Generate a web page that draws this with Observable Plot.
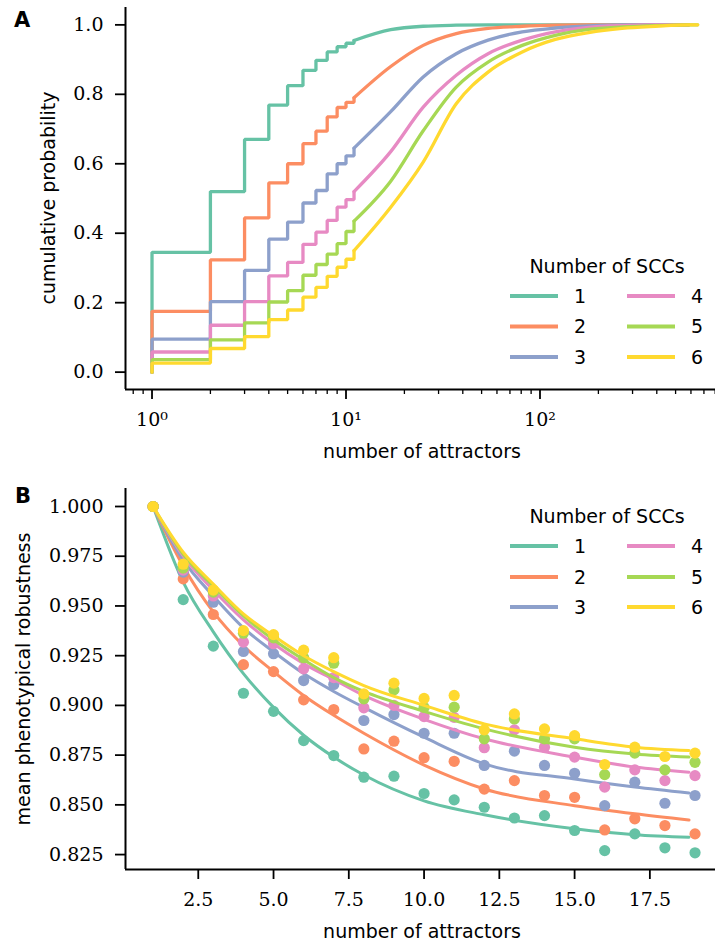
<!DOCTYPE html>
<html>
<head>
<meta charset="utf-8">
<script src="https://cdn.jsdelivr.net/npm/d3@7"></script>
<script src="https://cdn.jsdelivr.net/npm/@observablehq/plot@0.6"></script>
<style>
  html, body { margin: 0; padding: 0; background: #fff; }
  #wrap { position: relative; width: 715px; height: 944px; overflow: hidden; background: #fff; }
  #wrap > svg { position: absolute; left: 0; }
</style>
</head>
<body>
<div id="wrap"></div>
<script>
// ---------- shared ----------
const sccLabels = ["1", "2", "3", "4", "5", "6"];
const colors = ["#66c2a5", "#fc8d62", "#8da0cb", "#e78ac3", "#a6d854", "#ffd92f"];

// ---------- Panel A: ECDF of number of attractors ----------
const stepX = [1, 2, 3, 4, 5, 6, 7, 8, 9, 10, 11];
const stepsA = [
  [0.345, 0.520, 0.670, 0.769, 0.825, 0.869, 0.898, 0.922, 0.937, 0.947, 0.955],
  [0.175, 0.323, 0.444, 0.545, 0.600, 0.658, 0.694, 0.735, 0.762, 0.777, 0.790],
  [0.095, 0.203, 0.293, 0.383, 0.432, 0.487, 0.523, 0.571, 0.600, 0.623, 0.645],
  [0.058, 0.135, 0.203, 0.277, 0.316, 0.368, 0.403, 0.437, 0.475, 0.497, 0.520],
  [0.036, 0.093, 0.142, 0.202, 0.235, 0.279, 0.310, 0.340, 0.370, 0.405, 0.435],
  [0.026, 0.068, 0.102, 0.151, 0.179, 0.216, 0.244, 0.276, 0.302, 0.325, 0.350]
];
const tailX = [11, 17, 25, 37, 54, 81, 120, 178, 265, 394, 585, 650];
const tailsA = [
  [0.955, 0.986, 0.996, 0.999, 1.000, 1.000, 1.000, 1.000, 1.000, 1.000, 1.000],
  [0.790, 0.880, 0.941, 0.975, 0.990, 0.996, 0.999, 1.000, 1.000, 1.000, 1.000],
  [0.645, 0.750, 0.850, 0.917, 0.956, 0.980, 0.991, 0.997, 1.000, 1.000, 1.000],
  [0.520, 0.635, 0.763, 0.855, 0.917, 0.956, 0.980, 0.993, 0.998, 1.000, 1.000],
  [0.435, 0.550, 0.695, 0.821, 0.893, 0.941, 0.970, 0.987, 0.994, 0.998, 1.000, 1.000],
  [0.350, 0.475, 0.605, 0.773, 0.864, 0.922, 0.958, 0.978, 0.990, 0.996, 1.000, 1.000]
];
const yTicksA = [0, 0.2, 0.4, 0.6, 0.8, 1.0];
const xMajorA = [1, 10, 100];
const xMinorA = [0.8, 0.9, 2, 3, 4, 5, 6, 7, 8, 9, 20, 30, 40, 50, 60, 70, 80, 90, 200, 300, 400, 500, 600, 700, 800];

// ---------- Panel B: mean phenotypical robustness ----------
const attractorsB = [1, 2, 3, 4, 5, 6, 7, 8, 9, 10, 11, 12, 13, 14, 15, 16, 17, 18, 19];
const pointsB = [
  [1.000, 0.9532, 0.9298, 0.9061, 0.8970, 0.8823, 0.8748, 0.8639, 0.8644, 0.8557, 0.8525, 0.8488, 0.8434, 0.8446, 0.8371, 0.8270, 0.8354, 0.8284, 0.8259],
  [1.000, 0.9636, 0.9457, 0.9205, 0.9170, 0.9028, 0.8979, 0.8781, 0.8820, 0.8737, 0.8719, 0.8579, 0.8622, 0.8547, 0.8538, 0.8374, 0.8430, 0.8396, 0.8354],
  [1.000, 0.9670, 0.9519, 0.9271, 0.9260, 0.9125, 0.9105, 0.8924, 0.8954, 0.8860, 0.8860, 0.8698, 0.8770, 0.8698, 0.8659, 0.8496, 0.8614, 0.8508, 0.8547],
  [1.000, 0.9680, 0.9550, 0.9318, 0.9310, 0.9184, 0.9140, 0.8988, 0.9000, 0.8944, 0.8940, 0.8787, 0.8877, 0.8790, 0.8740, 0.8589, 0.8676, 0.8622, 0.8647],
  [1.000, 0.9690, 0.9570, 0.9363, 0.9340, 0.9240, 0.9212, 0.9033, 0.9078, 0.8990, 0.8991, 0.8832, 0.8932, 0.8832, 0.8832, 0.8652, 0.8760, 0.8676, 0.8714],
  [1.000, 0.9710, 0.9580, 0.9376, 0.9356, 0.9278, 0.9240, 0.9058, 0.9112, 0.9035, 0.9050, 0.8877, 0.8957, 0.8882, 0.8848, 0.8703, 0.8790, 0.8743, 0.8760]
];
const fitX = [1, 2, 3, 4, 5, 6, 7, 8, 10, 12, 15, 17, 18.8];
const fitsB = [
  [1, 0.962, 0.937, 0.916, 0.899, 0.885, 0.874, 0.865, 0.852, 0.845, 0.838, 0.835, 0.8337],
  [1, 0.970, 0.947, 0.930, 0.917, 0.905, 0.895, 0.886, 0.870, 0.858, 0.8496, 0.8455, 0.8424],
  [1, 0.973, 0.955, 0.939, 0.927, 0.916, 0.907, 0.899, 0.884, 0.8706, 0.863, 0.859, 0.856],
  [1, 0.975, 0.958, 0.943, 0.931, 0.921, 0.913, 0.905, 0.893, 0.8832, 0.874, 0.869, 0.8664],
  [1, 0.976, 0.960, 0.945, 0.933, 0.923, 0.914, 0.907, 0.897, 0.8882, 0.879, 0.8756, 0.874],
  [1, 0.977, 0.961, 0.946, 0.935, 0.925, 0.917, 0.910, 0.900, 0.8907, 0.8832, 0.879, 0.8773]
];
const yTicksB = [0.825, 0.850, 0.875, 0.900, 0.925, 0.950, 0.975, 1.000];
const xTicksB = [2.5, 5.0, 7.5, 10.0, 12.5, 15.0, 17.5];

// ---------- build ----------
const wrap = document.getElementById("wrap");
const sup = {0: "\u2070", 1: "\u00B9", 2: "\u00B2"};
const baseStyle = {fontFamily: "'DejaVu Serif', serif", fontSize: "19px", background: "transparent", color: "#000", overflow: "visible"};

const marksA = [];
sccLabels.forEach((s, i) => {
  const steps = [{x: stepX[0], y: 0}].concat(stepX.map((x, j) => ({x, y: stepsA[i][j]})));
  const tail = tailsA[i].map((y, j) => ({x: tailX[j], y}));
  marksA.push(Plot.line(steps, {x: "x", y: "y", curve: "step-after", stroke: colors[i], strokeWidth: 3.3, strokeLinejoin: "miter"}));
  marksA.push(Plot.line(tail, {x: "x", y: "y", curve: "monotone-x", stroke: colors[i], strokeWidth: 3.3}));
});

const plotA = Plot.plot({
  width: 715, height: 470,
  marginTop: 7, marginBottom: 81, marginLeft: 125, marginRight: 0,
  x: {type: "log", domain: [0.73, 803]},
  y: {domain: [-0.05, 1.05]},
  style: baseStyle,
  marks: [
    ...marksA,
    Plot.ruleX([0.73], {stroke: "#000", strokeWidth: 2}),
    Plot.ruleY([-0.05], {stroke: "#000", strokeWidth: 2}),
    Plot.axisY(yTicksA, {tickSize: 10, tickPadding: 12, tickFormat: d3.format(".1f"), strokeWidth: 1.8, label: null}),
    Plot.axisX(xMajorA, {tickSize: 10, tickPadding: 13, tickFormat: d => "10" + sup[Math.round(Math.log10(d))], strokeWidth: 1.8, label: null}),
    Plot.axisX(xMinorA, {tickSize: 5, tickFormat: () => "", strokeWidth: 1.3, label: null})
  ]
});
plotA.style.top = "0px";
wrap.appendChild(plotA);

const marksB = [];
sccLabels.forEach((s, i) => {
  const pts = pointsB[i].map((y, j) => ({x: attractorsB[j], y}));
  const fit = fitsB[i].map((y, j) => ({x: fitX[j], y}));
  marksB.push(Plot.dot(pts, {x: "x", y: "y", r: 5.6, fill: colors[i]}));
  marksB.push(Plot.line(fit, {x: "x", y: "y", curve: "monotone-x", stroke: colors[i], strokeWidth: 3}));
});

const plotB = Plot.plot({
  width: 715, height: 474,
  marginTop: 18, marginBottom: 75, marginLeft: 125, marginRight: 0,
  x: {domain: [0.083, 19.68]},
  y: {domain: [0.8175, 1.00905]},
  style: baseStyle,
  marks: [
    ...marksB,
    Plot.ruleX([0.083], {stroke: "#000", strokeWidth: 2}),
    Plot.ruleY([0.8175], {stroke: "#000", strokeWidth: 2}),
    Plot.axisY(yTicksB, {tickSize: 10, tickPadding: 12, tickFormat: d3.format(".3f"), strokeWidth: 1.8, label: null}),
    Plot.axisX(xTicksB, {tickSize: 10, tickPadding: 13, tickFormat: d3.format(".1f"), strokeWidth: 1.8, label: null})
  ]
});
plotB.style.top = "470px";
wrap.appendChild(plotB);

// ---------- overlay text: panel letters, axis titles, legends ----------
const ov = d3.create("svg").attr("width", 715).attr("height", 944)
  .style("top", "0px").style("pointer-events", "none")
  .attr("font-family", "'DejaVu Sans', sans-serif").attr("font-size", 19);

ov.append("text").attr("x", 14).attr("y", 27).attr("font-weight", "bold").attr("font-size", 21).text("A");
ov.append("text").attr("x", 15).attr("y", 503).attr("font-weight", "bold").attr("font-size", 21).text("B");

ov.append("text").attr("transform", "translate(55,198) rotate(-90)").attr("text-anchor", "middle").text("cumulative probability");
ov.append("text").attr("x", 422).attr("y", 458).attr("text-anchor", "middle").text("number of attractors");
ov.append("text").attr("transform", "translate(30,679) rotate(-90)").attr("text-anchor", "middle").text("mean phenotypical robustness");
ov.append("text").attr("x", 422).attr("y", 938).attr("text-anchor", "middle").text("number of attractors");

function legend(titleY, rowYs) {
  ov.append("text").attr("x", 607).attr("y", titleY).attr("text-anchor", "middle").text("Number of SCCs");
  sccLabels.forEach((s, i) => {
    const col = Math.floor(i / 3), row = i % 3;
    const x0 = col === 0 ? 510 : 627;
    const y = rowYs[row];
    ov.append("line").attr("x1", x0).attr("x2", x0 + 48).attr("y1", y).attr("y2", y)
      .attr("stroke", colors[i]).attr("stroke-width", 4);
    ov.append("text").attr("x", x0 + 64).attr("y", y).attr("dy", "0.36em").text(s);
  });
}
legend(273, [296, 326.5, 357]);
legend(523, [546, 577, 607]);

wrap.appendChild(ov.node());
</script>
</body>
</html>
